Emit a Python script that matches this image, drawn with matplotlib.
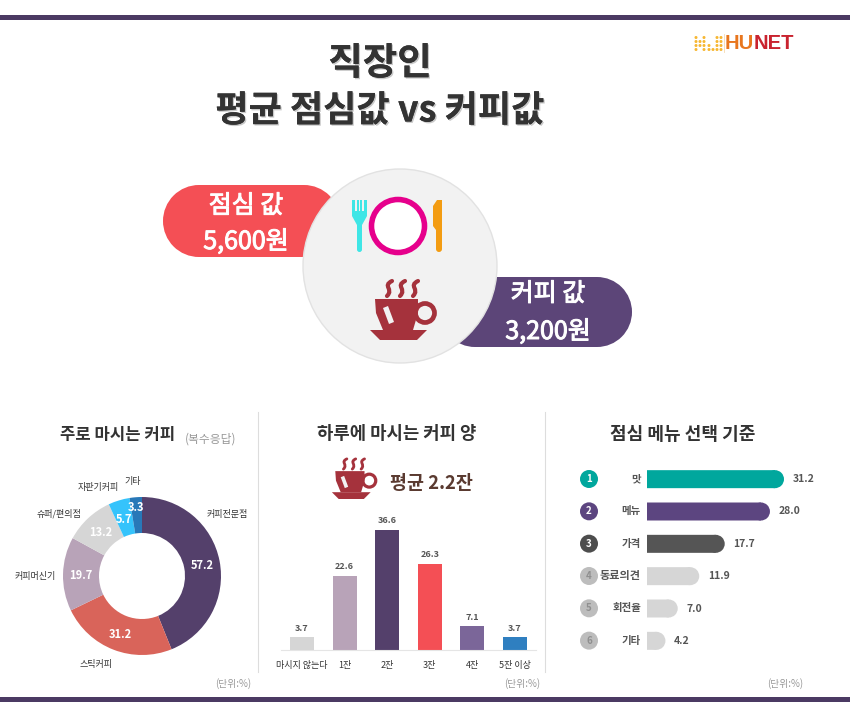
import numpy as np
import matplotlib
matplotlib.use("Agg")
import matplotlib.pyplot as plt
import matplotlib.patheffects as pe
from matplotlib.patches import Circle, Ellipse, FancyBboxPatch, PathPatch, Polygon, Rectangle
from matplotlib.path import Path

plt.rcParams['font.family'] = ['Noto Sans CJK KR', 'DejaVu Sans']

# donut: main coffee source (multiple answers)
source_labels = ["커피전문점", "스틱커피", "커피머신기", "슈퍼/편의점", "자판기커피", "기타"]
source_values = [57.2, 31.2, 19.7, 13.2, 5.7, 3.3]
source_colors = ["#54406b", "#d9645a", "#b8a3b8", "#d6d6d6", "#35c3fb", "#2878b8"]

# bars: cups per day
cup_labels = ["마시지 않는다", "1잔", "2잔", "3잔", "4잔", "5잔 이상"]
cup_values = [3.7, 22.6, 36.6, 26.3, 7.1, 3.7]
cup_colors = ["#d6d6d6", "#b8a3b8", "#54406b", "#f44f55", "#7b6699", "#2f7fc0"]

# horizontal bars: lunch menu criteria
menu_labels = ["맛", "메뉴", "가격", "동료의견", "회전율", "기타"]
menu_values = [31.2, 28.0, 17.7, 11.9, 7.0, 4.2]
menu_colors = ["#00a79d", "#5c4580", "#555555", "#d6d6d6", "#d6d6d6", "#d6d6d6"]
badge_colors = ["#00a79d", "#5c4580", "#4d4d4d", "#bdbdbd", "#bdbdbd", "#bdbdbd"]

W, H = 850, 725
DARK = "#333333"
RED = "#f44f55"
CUP = "#a5323c"

fig = plt.figure(figsize=(W / 100, H / 100), dpi=100, facecolor="white")


def px_axes(x0, y0, x1, y1):
    # axes placed by pixel box, y0 is the top edge in image coords
    return fig.add_axes([x0 / W, 1 - y1 / H, (x1 - x0) / W, (y1 - y0) / H])


bg = px_axes(0, 0, W, H)
bg.set_xlim(0, W)
bg.set_ylim(H, 0)
bg.axis("off")


def draw_pill(ax, x0, x1, y0, y1, color):
    r = (y1 - y0) / 2
    ax.add_patch(Rectangle((x0 + r, y0), x1 - x0 - 2 * r, y1 - y0, fc=color, ec="none"))
    ax.add_patch(Circle((x0 + r, y0 + r), r, fc=color, ec="none"))
    ax.add_patch(Circle((x1 - r, y0 + r), r, fc=color, ec="none"))


def draw_cup(ax, cx, cy, s):
    # cup icon, (cx, cy) is the middle of the cup body
    handle = Circle((cx + 21 * s, cy - 2 * s), 9.5 * s, fc="none", ec=CUP, lw=3.4 * s)
    body = Polygon([(cx - 29 * s, cy - 16 * s), (cx + 14 * s, cy - 16 * s),
                    (cx + 14 * s, cy - 2 * s), (cx + 9 * s, cy + 15 * s),
                    (cx - 21 * s, cy + 15 * s), (cx - 28 * s, cy - 2 * s)],
                   closed=True, fc=CUP, ec="none")
    saucer = Polygon([(cx - 34 * s, cy + 15 * s), (cx + 23 * s, cy + 15 * s),
                      (cx + 13 * s, cy + 25 * s), (cx - 24 * s, cy + 25 * s)],
                     closed=True, fc=CUP, ec="none")
    shine = Polygon([(cx - 21 * s, cy - 7 * s), (cx - 16 * s, cy - 9 * s),
                     (cx - 10 * s, cy + 7 * s), (cx - 15 * s, cy + 9 * s)],
                    closed=True, fc="#f2f2f2", ec="none")
    ax.add_patch(handle)
    ax.add_patch(body)
    ax.add_patch(saucer)
    ax.add_patch(shine)
    for dx in (-17, -4, 9):
        x = cx + dx * s
        verts = [(x + 5 * s, cy - 34 * s), (x - 5 * s, cy - 29 * s), (x + 7 * s, cy - 26 * s),
                 (x + 0 * s, cy - 19 * s)]
        codes = [Path.MOVETO, Path.CURVE4, Path.CURVE4, Path.CURVE4]
        ax.add_patch(PathPatch(Path(verts, codes), fc="none", ec=CUP, lw=3.0 * s, capstyle="round"))


# top / bottom bands
for y in (17, 699):
    bg.add_patch(Rectangle((0, y - 2.5), W, 5, fc="#4b3a63", ec="none"))

# title with soft shadow
shadow = [pe.withSimplePatchShadow(offset=(1.0, -1.0), shadow_rgbFace="#888888", alpha=0.45), pe.Normal()]
bg.text(380, 63, "직장인", ha="center", va="center", fontsize=27, fontweight="bold", color=DARK,
        path_effects=shadow)
bg.text(380, 111, "평균 점심값 vs 커피값", ha="center", va="center", fontsize=26, fontweight="bold", color=DARK,
        path_effects=shadow)

# logo, dot matrix then word
dot_cols = {696: (0, 1, 2, 3), 700: (1, 2), 704: (0, 1, 2, 3), 709: (2, 3), 713: (3,), 717: (0, 1, 2, 3), 721: (0, 1, 2, 3)}
for x, rows in dot_cols.items():
    for j in rows:
        bg.add_patch(Circle((x, 37.5 + j * 4), 1.5, fc="#f7b733", ec="none"))
bg.plot([724.5, 724.5], [34, 52], color="#f6d9b0", lw=0.6)
bg.text(725, 43, "HU", ha="left", va="center", fontsize=14.5, fontweight="bold", color="#e8761e",
        family="Liberation Sans")
bg.text(754, 43, "NET", ha="left", va="center", fontsize=14.5, fontweight="bold", color="#c9232f",
        family="Liberation Sans")

# price pills and central circle
draw_pill(bg, 163, 340, 185, 257, RED)
draw_pill(bg, 440, 632, 277, 347, "#5c4578")
bg.add_patch(Circle((400, 266), 97, fc="#f2f2f2", ec="#e2e2e2", lw=1))
heavier = [pe.withStroke(linewidth=0.7, foreground="white")]
bg.text(246, 206, "점심 값", ha="center", va="center", fontsize=18, color="white", path_effects=heavier)
bg.text(246, 242, "5,600원", ha="center", va="center", fontsize=18, color="white", path_effects=heavier)
bg.text(548, 294, "커피 값", ha="center", va="center", fontsize=18, color="white", path_effects=heavier)
bg.text(548, 332, "3,200원", ha="center", va="center", fontsize=18, color="white", path_effects=heavier)

# fork
FORK = "#3fe6e6"
bg.add_patch(FancyBboxPatch((357, 222), 5, 30, boxstyle="round,pad=0,rounding_size=2.5", fc=FORK, ec="none"))
bg.add_patch(Polygon([(352, 200), (367, 200), (367, 216), (362, 225), (357, 225), (352, 216)],
                     closed=True, fc=FORK, ec="none"))
for x in (356, 359.5, 363):
    bg.add_patch(Rectangle((x - 0.6, 200), 1.2, 11, fc="#f2f2f2", ec="none"))
# plate
bg.add_patch(Circle((398, 226), 26.5, fc="white", ec="#e6008c", lw=4))
# knife
KNIFE = "#f39c12"
bg.add_patch(FancyBboxPatch((436, 226), 6, 26, boxstyle="round,pad=0,rounding_size=3", fc=KNIFE, ec="none"))
bg.add_patch(Polygon([(433, 226), (433, 206), (437, 200), (442, 200), (442, 230), (436, 230)],
                     closed=True, fc=KNIFE, ec="none"))
draw_cup(bg, 404, 315, 1.0)

# panel separators
for x in (258, 545):
    bg.plot([x, x], [412, 672], color="#dddddd", lw=0.8)

# panel titles
bg.text(118, 435, "주로 마시는 커피", ha="center", va="center", fontsize=12, fontweight="bold", color=DARK)
bg.text(211, 439, "(복수응답)", ha="center", va="center", fontsize=8.5, color="#999999")
bg.text(397, 434, "하루에 마시는 커피 양", ha="center", va="center", fontsize=12.8, fontweight="bold", color=DARK)
bg.text(683, 434, "점심 메뉴 선택 기준", ha="center", va="center", fontsize=13, fontweight="bold", color=DARK)
draw_cup(bg, 355, 482, 0.68)
bg.text(431, 483, "평균 2.2잔", ha="center", va="center", fontsize=13.3, fontweight="bold", color="#5a3a30")

# unit notes
for x in (233, 522, 785):
    bg.text(x, 684, "(단위:%)", ha="center", va="center", fontsize=7, color="#999999")

# donut
donut = px_axes(42, 476, 242, 676)
wedges, _ = donut.pie(source_values, colors=source_colors, startangle=90, counterclock=False,
                      radius=79, center=(0, 0), frame=True,
                      wedgeprops={"width": 36, "edgecolor": "none"})
donut.set_xlim(-100, 100)
donut.set_ylim(-100, 100)
donut.set_aspect("equal")
donut.axis("off")
for val, w in zip(source_values, wedges):
    ang = np.deg2rad((w.theta1 + w.theta2) / 2)
    r = 61 if val > 4 else 70
    donut.text(r * np.cos(ang), r * np.sin(ang) - 1.5, f"{val:.1f}", ha="center", va="center",
               fontsize=8, fontweight="bold", color="white")

# donut outer labels, image coords
for lab, (x, y) in zip(source_labels, [(227, 514), (96, 664), (35, 576), (59, 514), (98, 487), (133, 481)]):
    bg.text(x, y, lab, ha="center", va="center", fontsize=6.5, fontweight="medium", color=DARK)

# cups per day
bar_ax = px_axes(280.7, 530, 536.3, 649.5)
xs = np.arange(len(cup_values))
bar_ax.bar(xs, cup_values, width=0.56, color=cup_colors)
bar_ax.set_xlim(-0.5, 5.5)
bar_ax.set_ylim(0, 36.6)
bar_ax.patch.set_alpha(0)
for s in ("top", "left", "right"):
    bar_ax.spines[s].set_visible(False)
bar_ax.spines["bottom"].set_color("#e5e5e5")
bar_ax.set_yticks([])
bar_ax.set_xticks(xs)
bar_ax.set_xticklabels(cup_labels, fontsize=6.5, fontweight="medium", color=DARK)
bar_ax.tick_params(axis="x", length=0, pad=8)
for x, v in zip(xs, cup_values):
    bar_ax.text(x, v + 1.4, f"{v:.1f}", ha="center", va="bottom", fontsize=6.5,
                fontweight="bold", color="#555555", clip_on=False)

# lunch criteria, rounded ends via an ellipse cap
menu_ax = px_axes(647, 463, 830, 657)
menu_ax.set_xlim(0, 183 / (137 / 31.2))
menu_ax.set_ylim(5.5, -0.5)
menu_ax.axis("off")
ys = np.arange(len(menu_values))
bar_h = 18 / 32.33
cap = 9 / (137 / 31.2)
for y, v, c in zip(ys, menu_values, menu_colors):
    menu_ax.barh(y, v - cap, height=bar_h, color=c, snap=False)
    menu_ax.add_patch(Ellipse((v - cap, y), 2 * cap, bar_h, fc=c, ec="none"))
    menu_ax.text(v + 2.0, y, f"{v:.1f}", ha="left", va="center", fontsize=7.5,
                 fontweight="bold", color="#555555")

for i, (lab, bc) in enumerate(zip(menu_labels, badge_colors)):
    yy = 479 + i * 32.33
    bg.add_patch(Circle((589, yy), 9, fc=bc, ec="none"))
    bg.text(589, yy, str(i + 1), ha="center", va="center", fontsize=7, fontweight="bold",
            color="white" if i < 3 else "#8f8f8f")
    bg.text(641, yy, lab, ha="right", va="center", fontsize=8 if i == 3 else 7.5, fontweight="bold", color="#555555")

fig.savefig("out.png", dpi=100)
